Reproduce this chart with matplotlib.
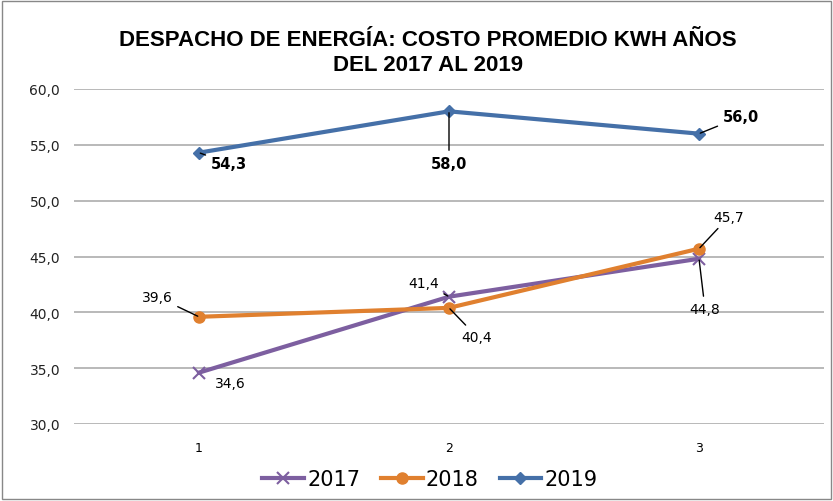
import matplotlib
matplotlib.use("Agg")
import matplotlib.pyplot as plt
from matplotlib.patches import Rectangle

categories = [1, 2, 3]
years = ["2017", "2018", "2019"]
v2017 = [34.6, 41.4, 44.8]
v2018 = [39.6, 40.4, 45.7]
v2019 = [54.3, 58.0, 56.0]
yticks = [30, 35, 40, 45, 50, 55, 60]
title = "DESPACHO DE ENERGÍA: COSTO PROMEDIO KWH AÑOS\nDEL 2017 AL 2019"

colors = {"2017": "#7D5FA0", "2018": "#E0802F", "2019": "#4570A8"}

fig = plt.figure(figsize=(8.33, 5.02), dpi=100)
W, H = 833, 502
ax = fig.add_axes([74 / W, 1 - 425 / H, (824 - 74) / W, (425 - 90) / H])

ax.set_xlim(0.5, 3.5)
ax.set_ylim(30, 60)
ax.set_yticks(yticks)
ax.set_yticklabels([f"{t:.1f}".replace(".", ",") for t in yticks],
                   fontsize=10, family="DejaVu Sans", color="#222222")
ax.set_xticks(categories)
ax.set_xticklabels([str(c) for c in categories], fontsize=9, family="DejaVu Sans")
ax.tick_params(length=0, pad=10)
ax.tick_params(axis="x", pad=12)
ax.grid(axis="y", color="#A6A6A6", linewidth=1.1)
ax.set_axisbelow(True)
for s in ax.spines.values():
    s.set_visible(False)

ax.plot(categories, v2017, color=colors["2017"], lw=3, marker="x", ms=9, mew=1.5, label="2017")
ax.plot(categories, v2018, color=colors["2018"], lw=3, marker="o", ms=8, label="2018")
ax.plot(categories, v2019, color=colors["2019"], lw=3, marker="D", ms=6, label="2019")

def fmt(v):
    return f"{v:.1f}".replace(".", ",")

def lab(x, y, dx, dy, bold=False, ha="center", line=True):
    ax.annotate(fmt(y), xy=(x, y), xytext=(dx, dy), textcoords="offset pixels",
                ha=ha, va="center", fontsize=10.5 if bold else 10,
                fontweight="bold" if bold else "normal", family="DejaVu Sans",
                color="black",
                arrowprops=dict(arrowstyle="-", color="black", lw=1, shrinkA=2, shrinkB=1) if line else None)

# 2017
lab(1, v2017[0], 16, -10, ha="left", line=False)
lab(2, v2017[1], -25, 14)
lab(3, v2017[2], 6, -50)
# 2018
lab(1, v2018[0], -42, 20)
lab(2, v2018[1], 28, -29)
lab(3, v2018[2], 30, 32)
# 2019
lab(1, v2019[0], 30, -11, bold=True)
lab(2, v2019[1], 0, -52, bold=True)
lab(3, v2019[2], 42, 17, bold=True)

fig.text(0.514, 1 - 53 / H, title, ha="center", va="center", fontsize=16,
         fontweight="bold", family="Liberation Sans", linespacing=1.3)

fig.legend(loc="center", bbox_to_anchor=(430 / W, 1 - 480 / H), ncol=3,
           frameon=False, prop={"family": "DejaVu Sans", "size": 15},
           handlelength=2.0, columnspacing=1.0, handletextpad=0.15)

fig.patches.append(Rectangle((0.002, 0.003), 0.996, 0.994, transform=fig.transFigure,
                             fill=False, edgecolor="#888888", lw=1))

fig.savefig("out.png", dpi=100)
